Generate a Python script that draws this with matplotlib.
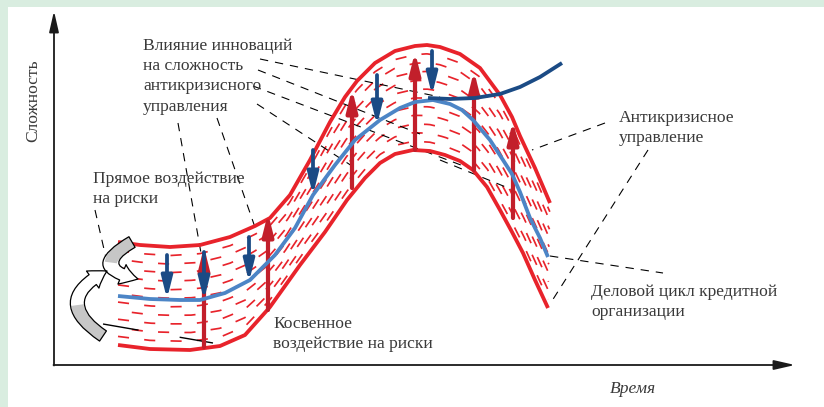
import numpy as np
import matplotlib
matplotlib.use("Agg")
import matplotlib.pyplot as plt
from matplotlib.patches import FancyArrowPatch, Rectangle

plt.rcParams["lines.scale_dashes"] = False

W, H = 824, 407

# ---- curves (pixel-space diagram coordinates) ----
upper_x = [118, 140, 170, 200, 230, 255, 270, 290, 310, 330, 345, 357, 375, 395, 415, 427, 440, 460, 480, 500, 512, 520, 535, 550]
upper_y = [242, 245, 247, 245, 237, 226, 218, 195, 160, 122, 97, 81, 63, 51, 46, 45, 47, 54, 68, 95, 117, 136, 168, 203]

lower_x = [118, 150, 190, 220, 245, 270, 300, 325, 347, 365, 380, 395, 413, 430, 445, 460, 473, 487, 500, 512, 523, 535, 548]
lower_y = [345, 349, 350, 346, 335, 307, 265, 232, 200, 178, 163, 154, 150, 151, 155, 161, 170, 187, 210, 232, 253, 280, 308]

mid_x = [118, 150, 180, 200, 225, 250, 275, 295, 313, 335, 355, 380, 400, 415, 433, 450, 462, 473, 490, 503, 512, 520, 530, 540, 548]
mid_y = [296, 299, 300, 300, 293, 280, 255, 228, 195, 165, 140, 120, 108, 102, 100, 104, 110, 120, 140, 160, 174, 192, 218, 238, 257]

dark_x = [428, 450, 475, 500, 520, 540, 562]
dark_y = [98, 99, 98, 94, 87, 77, 63]

# ---- arrows ----
red_arrow_x = [204, 268, 352, 415, 474, 513]
red_arrow_base = [347, 310, 188, 150, 170, 218]
red_arrow_tip = [247, 213, 89, 52, 71, 121]

blue_arrow_x = [167, 204, 249, 313, 377, 432]
blue_arrow_top = [255, 252, 237, 150, 75, 51]
blue_arrow_tip = [299, 300, 282, 195, 125, 95]

# curled arrows: start, end, curvature
curl_start = [(132, 242), (103, 336)]
curl_end = [(138, 279), (107, 271)]
curl_rad = [1.3, -0.85]

# ---- leader lines ----
leaders = [
    ((260, 59), (440, 97)),
    ((258, 70), (420, 134)),
    ((253, 86), (474, 170)),
    ((257, 104), (352, 166)),
    ((440, 160), (513, 190)),
    ((178, 123), (201, 253)),
    ((217, 118), (257, 233)),
    ((95, 210), (106, 258)),
    ((605, 123), (532, 150)),
    ((648, 150), (550, 304)),
    ((550, 256), (663, 273)),
]
solid_leader = ((103, 324), (213, 343))

# ---- texts ----
influence_lines = ["Влияние инноваций", "на сложность", "антикризисного", "управления"]
direct_lines = ["Прямое воздействие", "на риски"]
indirect_lines = ["Косвенное", "воздействие на риски"]
anti_lines = ["Антикризисное", "управление"]
biz_lines = ["Деловой цикл кредитной", "организации"]
y_label = "Сложность"
x_label = "Время"

RED = "#e8232b"
DARK_RED = "#c21f2b"
LBLUE = "#4c85c6"
DBLUE = "#1b4b85"
TXT = "#3a3a3a"
GREEN = "#d9ede0"

fig = plt.figure(figsize=(W / 100, H / 100), dpi=100)
ax = fig.add_axes([0, 0, 1, 1])
ax.set_xlim(0, W)
ax.set_ylim(H, 0)
ax.axis("off")
fig.patch.set_facecolor(GREEN)
ax.add_patch(Rectangle((8, 7), W - 8, H - 7, facecolor="white", edgecolor="none", zorder=0))

PX = 0.72  # points per pixel


def resample(xs, ys, n):
    xs = np.asarray(xs, float)
    ys = np.asarray(ys, float)
    s = np.concatenate([[0], np.cumsum(np.hypot(np.diff(xs), np.diff(ys)))])
    t = np.linspace(0, s[-1], n)
    return np.interp(t, s, xs), np.interp(t, s, ys)


# hatching between the two boundaries
ux, uy = resample(upper_x, upper_y, 400)
lx, ly = resample(lower_x, lower_y, 400)
nrows = 11
for i in range(1, nrows + 1):
    f = i / (nrows + 1)
    hx = ux + (lx - ux) * f
    hy = uy + (ly - uy) * f
    off = 0 if i % 2 else 9
    ax.plot(hx, hy, color=RED, lw=1.7 * PX, linestyle=(off, (8, 11)),
            solid_capstyle="butt", zorder=2)

ax.plot(upper_x, upper_y, color=RED, lw=3.8 * PX, solid_joinstyle="round", solid_capstyle="butt", zorder=4)
ax.plot(lower_x, lower_y, color=RED, lw=3.8 * PX, solid_joinstyle="round", solid_capstyle="butt", zorder=4)

# leaders
for (a, b) in leaders:
    ax.plot([a[0], b[0]], [a[1], b[1]], color="black", lw=1.1 * PX,
            linestyle=(0, (6, 5)), zorder=3)
ax.plot([solid_leader[0][0], solid_leader[1][0]], [solid_leader[0][1], solid_leader[1][1]],
        color="black", lw=1.0, linestyle=(0, (26, 30)), zorder=3)

ARW = "-|>,head_length=0.8,head_width=0.2"

# red arrows
for x, b, t in zip(red_arrow_x, red_arrow_base, red_arrow_tip):
    ax.annotate("", xy=(x, t), xytext=(x, b),
                arrowprops=dict(arrowstyle=ARW, color=DARK_RED, lw=4.2 * PX,
                                mutation_scale=16, shrinkA=0, shrinkB=0), zorder=5)

ax.plot(mid_x, mid_y, color=LBLUE, lw=3.8 * PX, solid_joinstyle="round", solid_capstyle="butt", zorder=6)
ax.plot(dark_x, dark_y, color=DBLUE, lw=3.8 * PX, solid_joinstyle="round", solid_capstyle="butt", zorder=6)

for x, t0, t1 in zip(blue_arrow_x, blue_arrow_top, blue_arrow_tip):
    ax.annotate("", xy=(x, t1), xytext=(x, t0),
                arrowprops=dict(arrowstyle=ARW, color=DBLUE, lw=3.8 * PX,
                                mutation_scale=16, shrinkA=0, shrinkB=0), zorder=7)

# curled ribbon arrows: white body, grey back side on first part, black outline on top
CURL = "simple,head_length=0.75,head_width=0.95,tail_width=0.55"
for a, b, rad in zip(curl_start, curl_end, curl_rad):
    body = FancyArrowPatch(a, b, connectionstyle=f"arc3,rad={rad}", arrowstyle=CURL,
                           mutation_scale=16, facecolor="white", edgecolor="none",
                           shrinkA=0, shrinkB=0, zorder=8)
    ax.add_patch(body)
    mx, my = (a[0] + b[0]) / 2, (a[1] + b[1]) / 2
    dx, dy = b[0] - a[0], b[1] - a[1]
    cx, cy = mx - rad * dy, my + rad * dx
    t = np.linspace(0.0, 0.45, 30)
    bx = (1 - t) ** 2 * a[0] + 2 * (1 - t) * t * cx + t ** 2 * b[0]
    by = (1 - t) ** 2 * a[1] + 2 * (1 - t) * t * cy + t ** 2 * b[1]
    ax.plot(bx, by, color="#c6c6c6", lw=8.8, solid_capstyle="butt", zorder=8.5)
    edge = FancyArrowPatch(a, b, connectionstyle=f"arc3,rad={rad}", arrowstyle=CURL,
                           mutation_scale=16, facecolor="none", edgecolor="black",
                           lw=0.9, shrinkA=0, shrinkB=0, zorder=8.8)
    ax.add_patch(edge)

# axes
AXW = "-|>,head_length=0.7,head_width=0.16"
ax.annotate("", xy=(54, 11), xytext=(54, 365.5),
            arrowprops=dict(arrowstyle=AXW, color="#1a1a1a",
                            lw=1.3, mutation_scale=18, shrinkA=0, shrinkB=0))
ax.annotate("", xy=(795, 365), xytext=(53.5, 365),
            arrowprops=dict(arrowstyle=AXW, color="#1a1a1a",
                            lw=1.3, mutation_scale=18, shrinkA=0, shrinkB=0))

FONT = "Liberation Serif"
FS = 12.6


def block(lines, x, y0, step=20.2):
    for k, s in enumerate(lines):
        ax.text(x, y0 + k * step, s, fontsize=FS, family=FONT, color=TXT,
                ha="left", va="baseline", zorder=9)


block(influence_lines, 143, 50)
block(direct_lines, 93, 183)
block(indirect_lines, 273, 328)
block(anti_lines, 619, 122)
block(biz_lines, 591, 296)
ax.text(33, 101, y_label, rotation=90, fontsize=FS, family=FONT, color=TXT,
        ha="center", va="center")
ax.text(610, 393, x_label, fontsize=FS, family=FONT, style="italic", color=TXT,
        ha="left", va="baseline")

fig.savefig("out.png", dpi=100, facecolor=GREEN)
